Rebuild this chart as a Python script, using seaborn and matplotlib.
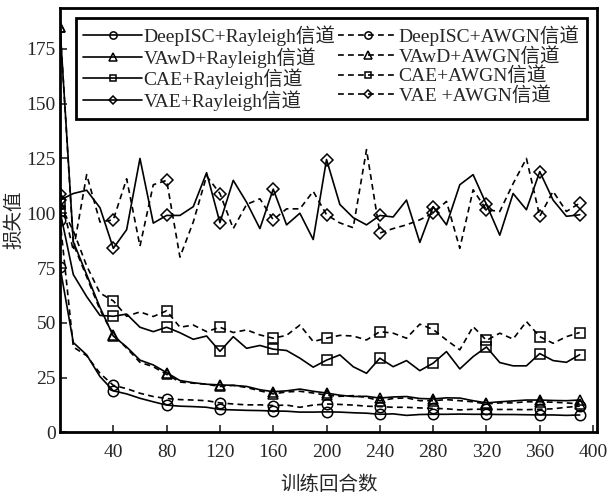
import numpy as np
import pandas as pd
import matplotlib
matplotlib.use("Agg")
import matplotlib.pyplot as plt
import seaborn as sns

epochs = list(range(0, 400, 10))

deep_r = [75.5, 41, 35.4, 25.5, 19, 17.6, 15.6, 14, 12.5, 12, 11.8, 11.5, 10.5, 10.3, 10.1, 10, 9.8, 9.7, 9.3, 9.3,
          9.4, 9.3, 9, 8.8, 8.3, 8.5, 7.8, 8.2, 8.3, 8.3, 8.4, 8.3, 8.3, 8.2, 8.2, 8.1, 8, 8, 7.8, 8]
deep_a = [97, 39, 35, 27, 21.5, 20, 17.9, 16.4, 15.5, 15, 14.8, 14.5, 13.5, 13, 12.6, 12.6, 12.3, 12.5, 11.5, 12.5,
          13, 12.8, 12.5, 12, 11.8, 11.5, 11.5, 11.2, 11, 10.8, 10.3, 10.6, 10.6, 10.5, 10.5, 10.4, 10.6, 10.8, 11.5, 12]
vawd_r = [185, 87, 72, 57, 44, 39, 33, 30.8, 27.3, 23.7, 22.7, 22, 21.7, 21.5, 21, 19.5, 18.6, 19, 19.8, 18.8,
          18, 17, 16.4, 16.5, 15.7, 16.2, 16.4, 15.5, 15.3, 15.8, 15.7, 14.5, 13.5, 14, 14.4, 14.8, 14.8, 14.6, 14.5, 14.8]
vawd_a = [185, 86, 71, 56, 44.5, 38.5, 32, 30, 26.5, 23, 22.5, 22, 21, 21.5, 20.5, 19, 17.6, 18.5, 18.8, 18,
          17, 16.5, 16.8, 16, 14.5, 15.5, 15.8, 14.5, 14.5, 15, 14.5, 14, 13, 13.5, 13.5, 14, 14, 13.8, 13.5, 13]
cae_r = [101, 72, 62, 53.4, 53, 54, 48, 46, 48, 45.5, 42.5, 44, 37, 43.7, 38.4, 39.7, 38, 37.4, 33.9, 29.8,
         33, 35.4, 30, 27, 33.9, 30, 32.8, 28.2, 31.6, 36.9, 29, 34.6, 39, 31.9, 30.4, 30.4, 36, 32.8, 32, 35.5]
cae_a = [104, 92, 76, 63.6, 60, 53, 55, 52.9, 55.5, 48, 49, 46, 48, 45.6, 46.8, 44.5, 43, 44.3, 49, 41.5,
         43, 44.3, 44, 42.2, 46, 45.3, 43, 49.4, 47, 42.2, 37.7, 48.3, 42, 45.3, 42.6, 50.6, 43.7, 40.7, 43.7, 45.6]
vae_r = [106, 109, 110.5, 102.5, 84, 92.5, 125, 95.5, 99, 99, 103, 118.5, 95.7, 115, 105, 93, 111, 94.7, 100, 88,
         124.5, 104, 98, 94.7, 99, 98.3, 106, 86.7, 103, 94.7, 113, 117.6, 104, 90, 109, 101.6, 119, 106, 98.6, 99.3]
vae_a = [109, 83, 117.6, 96, 97, 115.7, 85, 113, 115, 80, 96, 117, 109, 93, 104, 106.6, 97, 102, 102, 110,
         99.3, 95.6, 93.4, 129, 91, 93, 94.7, 97, 100, 105.4, 84, 110.7, 101.6, 100.8, 113.5, 125, 98.6, 110, 100.8, 104.6]

labels_r = ["DeepISC+Rayleigh信道", "VAwD+Rayleigh信道", "CAE+Rayleigh信道", "VAE+Rayleigh信道"]
labels_a = ["DeepISC+AWGN信道", "VAwD+AWGN信道", "CAE+AWGN信道", "VAE +AWGN信道"]
xticks = [40, 80, 120, 160, 200, 240, 280, 320, 360, 400]
yticks = [0, 25, 50, 75, 100, 125, 150, 175]

sns.set_style("white")
plt.rcParams['font.family'] = ['Liberation Serif', 'Noto Sans CJK SC', 'DejaVu Sans']
plt.rcParams['axes.unicode_minus'] = False

fig = plt.figure(figsize=(6.08, 4.97), dpi=100)
ax = fig.add_axes([0.0987, 0.1298, 0.8833, 0.8545])

marker_idx = list(range(0, 40, 4)) + [39]
markers = ['o', '^', 's', 'D']
msizes = [7.5, 7.5, 6.5, 6.5]
series_r = [deep_r, vawd_r, cae_r, vae_r]
series_a = [deep_a, vawd_a, cae_a, vae_a]

for vals, lab, mk, ms in zip(series_r, labels_r, markers, msizes):
    df = pd.DataFrame({"epoch": epochs, "loss": vals})
    sns.lineplot(data=df, x="epoch", y="loss", ax=ax, color="black", linewidth=1.2,
                 linestyle="-", marker=mk, markersize=ms, markevery=marker_idx,
                 markerfacecolor="none", markeredgecolor="black", markeredgewidth=1.1,
                 label=lab)
for vals, lab, mk, ms in zip(series_a, labels_a, markers, msizes):
    df = pd.DataFrame({"epoch": epochs, "loss": vals})
    sns.lineplot(data=df, x="epoch", y="loss", ax=ax, color="black", linewidth=1.2,
                 linestyle=(0, (3.5, 2.5)), marker=mk, markersize=ms, markevery=marker_idx,
                 markerfacecolor="none", markeredgecolor="black", markeredgewidth=1.1,
                 label=lab)

ax.set_xlim(0, 403)
ax.set_ylim(0, 193.7)
ax.set_xticks(xticks)
ax.set_yticks(yticks)
ax.tick_params(axis='both', direction='in', length=5, width=1.2, labelsize=14,
               bottom=True, left=True, top=False, right=False)
ax.tick_params(axis='x', pad=8)
ax.tick_params(axis='y', pad=3)
for s in ax.spines.values():
    s.set_linewidth(2)
    s.set_color('black')

ax.set_xlabel("训练回合数", fontsize=14, labelpad=11)
ax.set_ylabel("损失值", fontsize=14, labelpad=2)

leg = ax.legend(ncol=2, loc='upper left', bbox_to_anchor=(0.029, 0.977), borderaxespad=0,
                fontsize=14, frameon=True, fancybox=False, edgecolor='black',
                handlelength=3.0, handletextpad=0.1, columnspacing=0.15,
                labelspacing=0.05, borderpad=0.4, markerscale=0.7)
leg.get_frame().set_linewidth(2)
leg.get_frame().set_alpha(1)

fig.savefig("out.png", dpi=100)
